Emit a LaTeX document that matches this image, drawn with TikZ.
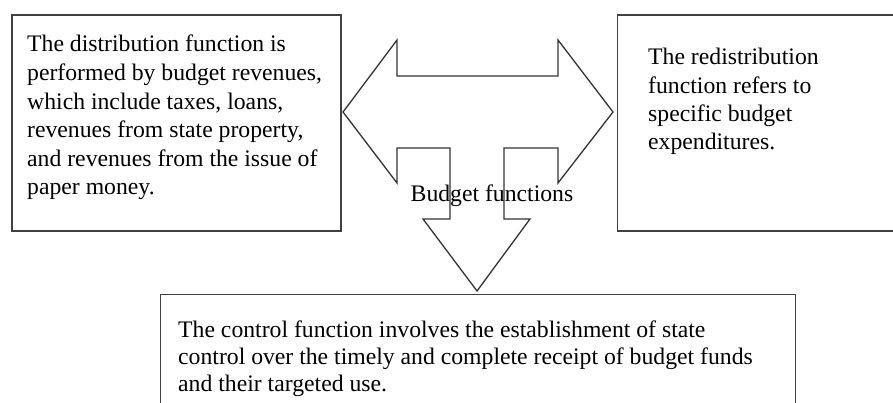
\documentclass[tikz,border=0pt]{standalone}
\usepackage{fontspec}
\setmainfont{Liberation Serif}
\begin{document}
\begin{tikzpicture}[x=1pt,y=-1pt,
  boxline/.style={draw=black!75,line width=1.4pt},
  panel/.style={boxline,rectangle,inner sep=0pt},
  txt/.style={align=left,inner sep=0pt,anchor=base west,font=\fontsize{23.7}{28.6}\selectfont},
  shapeline/.style={draw=black!80,line width=1.3pt,line join=miter,fill=white}]
\useasboundingbox (0,0) rectangle (893,403);
\fill[white] (0,0) rectangle (893,403);
% boxes
\node[panel,minimum width=329pt,minimum height=216pt] (left) at (176.5,123) {};
\node[panel,minimum width=300pt,minimum height=216pt,anchor=west] (right) at (617,123) {};
\node[panel,minimum width=635pt,minimum height=140pt,anchor=north west] (bottom) at (160,294) {};
% T-shaped arrow
\draw[shapeline] (343,112) -- (397,40) -- (397,76) -- (558,76) -- (558,40) -- (613,112)
  -- (558,183) -- (558,148) -- (504,148) -- (504,219) -- (530,219) -- (477,291)
  -- (423,219) -- (450,219) -- (450,148) -- (397,148) -- (397,183) -- cycle;
% texts (anchored at the baseline of the last line)
\node[txt] (ltext) at (27,195) {The distribution function is\\performed by budget revenues,\\which include taxes, loans,\\revenues from state property,\\and revenues from the issue of\\paper money.};
\node[txt,font=\fontsize{23.7}{28.4}\selectfont] (rtext) at (648,150) {The redistribution\\function refers to\\specific budget\\expenditures.};
\node[txt,font=\fontsize{23.7}{27}\selectfont] (btext) at (178,391) {The control function involves the establishment of state\\control over the timely and complete receipt of budget funds\\and their targeted use.};
\node[txt,anchor=base] (title) at (492,202) {Budget functions};
\end{tikzpicture}
\end{document}
